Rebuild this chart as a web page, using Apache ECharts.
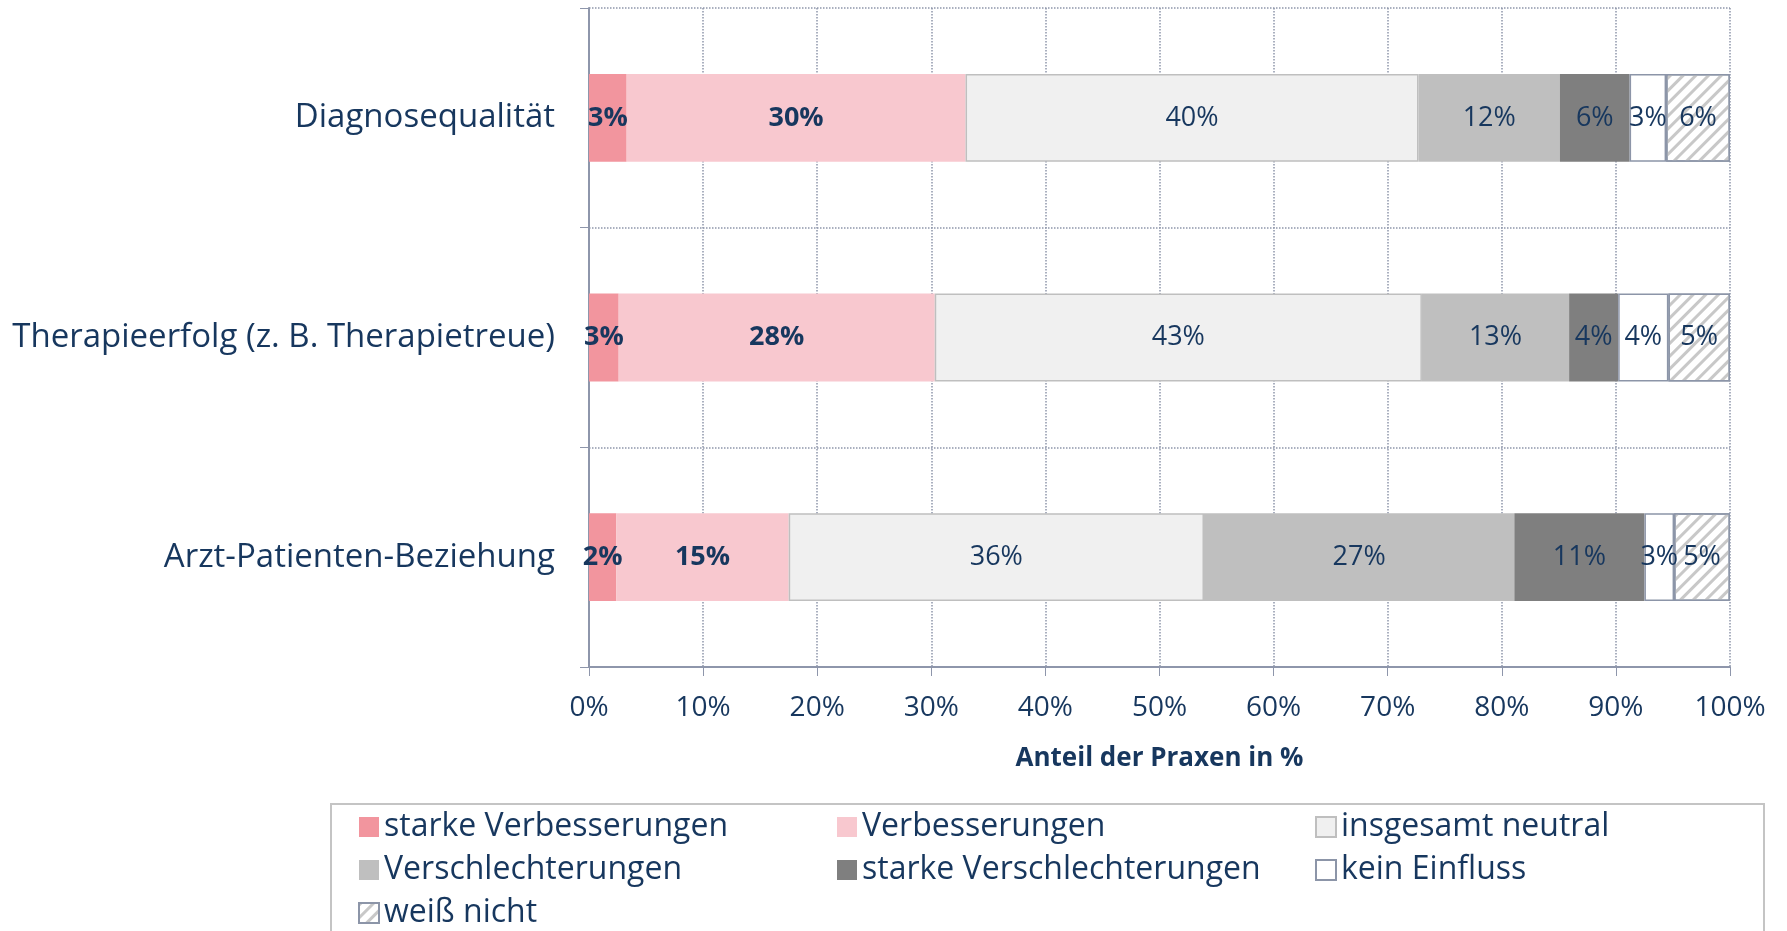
<!DOCTYPE html>
<html>
<head>
<meta charset="utf-8">
<script src="https://cdn.jsdelivr.net/npm/echarts@6/dist/echarts.min.js"></script>
<style>
  html, body { margin: 0; padding: 0; background: #fff; }
  #chart { width: 1787px; height: 931px; }
</style>
</head>
<body>
<div id="chart"></div>
<script>
// Kategorien (von oben nach unten)
const categories = ['Diagnosequalität', 'Therapieerfolg (z. B. Therapietreue)', 'Arzt-Patienten-Beziehung']

// Anteile in %
const starkeVerbesserungen = [3.3, 2.6, 2.4]
const verbesserungen = [29.7, 27.7, 15.1]
const insgesamtNeutral = [39.7, 42.7, 36.4]
const verschlechterungen = [12.4, 12.9, 27.2]
const starkeVerschlechterungen = [6.1, 4.3, 11.4]
const keinEinfluss = [3.2, 4.4, 2.6]
const weissNicht = [5.6, 5.4, 4.9]

const textColor = '#17375E'
const axisColor = '#8e96ab'
const font = 'Open Sans'

const makeSeries = (name, data, style, bold) => ({
  name,
  type: 'bar',
  stack: 'total',
  barWidth: '40%',
  data,
  itemStyle: style,
  label: {
    show: true,
    position: 'inside',
    color: textColor,
    fontFamily: font,
    fontSize: 27,
    fontWeight: bold ? 'bold' : 'normal',
    formatter: (p) => Math.round(p.value) + '%',
  },
})

const series = [
  makeSeries('starke Verbesserungen', starkeVerbesserungen, { color: '#f2959e' }, true),
  makeSeries('Verbesserungen', verbesserungen, { color: '#f8c8cf' }, true),
  makeSeries('insgesamt neutral', insgesamtNeutral, { color: '#f0f0f0', borderColor: '#bfbfbf', borderWidth: 1.5 }),
  makeSeries('Verschlechterungen', verschlechterungen, { color: '#bfbfbf' }),
  makeSeries('starke Verschlechterungen', starkeVerschlechterungen, { color: '#7f7f7f' }),
  makeSeries('kein Einfluss', keinEinfluss, { color: '#ffffff', borderColor: '#8c95a8', borderWidth: 1.5 }),
  makeSeries('weiß nicht', weissNicht, {
    color: '#ffffff',
    borderColor: '#8c95a8',
    borderWidth: 1.5,
    decal: {
      symbol: 'rect',
      symbolSize: 1,
      color: '#c8c8c8',
      dashArrayX: [1, 0],
      dashArrayY: [3, 6],
      rotation: -Math.PI / 4,
    },
  }),
]

const legendText = { color: textColor, fontFamily: font, fontSize: 32 }
const legendBase = {
  orient: 'vertical',
  top: 811,
  height: 130,
  padding: 0,
  icon: 'rect',
  itemWidth: 20,
  itemHeight: 20,
  itemGap: 11,
  textStyle: legendText,
  selectedMode: false,
}

const instance = echarts.init(document.getElementById('chart'))

instance.setOption({
  animation: false,
  grid: { left: 589, right: 57, top: 8, bottom: 264 },
  xAxis: {
    type: 'value',
    min: 0,
    max: 100,
    interval: 10,
    name: 'Anteil der Praxen in %',
    nameLocation: 'middle',
    nameGap: 79,
    nameTextStyle: { color: textColor, fontFamily: font, fontSize: 26, fontWeight: 'bold' },
    axisLine: { show: true, lineStyle: { color: axisColor, width: 2 } },
    axisTick: { show: true, length: 9, lineStyle: { color: axisColor } },
    axisLabel: { formatter: '{value}%', color: textColor, fontFamily: font, fontSize: 28, margin: 27 },
    splitLine: { show: true, lineStyle: { color: axisColor, type: 'dotted', width: 1.5 } },
  },
  yAxis: {
    type: 'category',
    inverse: true,
    data: categories,
    axisLine: { show: true, lineStyle: { color: axisColor, width: 2 } },
    axisTick: { show: true, length: 9, lineStyle: { color: axisColor } },
    axisLabel: { color: textColor, fontFamily: font, fontSize: 33, margin: 34 },
    splitLine: { show: true, lineStyle: { color: axisColor, type: 'dotted', width: 1.5 } },
  },
  legend: [
    Object.assign({}, legendBase, { left: 358, data: ['starke Verbesserungen', 'Verschlechterungen', 'weiß nicht'] }),
    Object.assign({}, legendBase, { left: 837, data: ['Verbesserungen', 'starke Verschlechterungen'] }),
    Object.assign({}, legendBase, { left: 1315, data: ['insgesamt neutral', 'kein Einfluss'] }),
  ],
  graphic: [
    {
      type: 'rect',
      shape: { x: 331, y: 804, width: 1433, height: 140 },
      style: { fill: 'none', stroke: '#c4c4c4', lineWidth: 2 },
      silent: true,
    },
  ],
  series,
})
</script>
</body>
</html>
